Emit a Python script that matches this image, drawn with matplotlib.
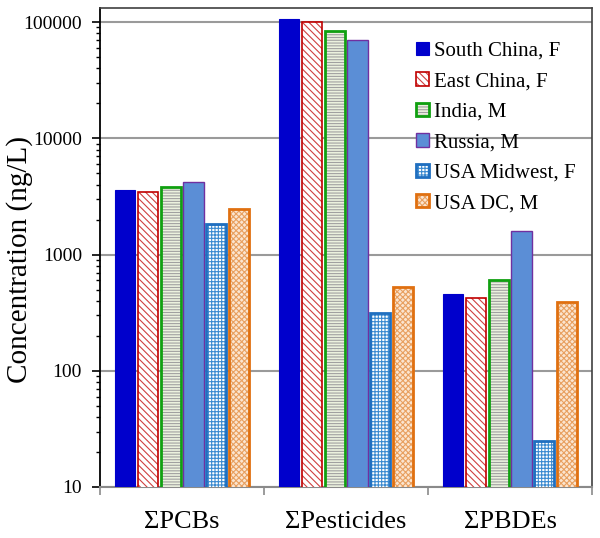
import numpy as np
import matplotlib.pyplot as plt
from matplotlib.colors import to_rgba
from matplotlib.ticker import LogLocator, NullFormatter, FixedLocator

plt.rcParams['font.family'] = ['Liberation Serif', 'DejaVu Serif']
plt.rcParams['hatch.linewidth'] = 0.8

# DATA
categories = ["ΣPCBs", "ΣPesticides", "ΣPBDEs"]
series = ["South China, F", "East China, F", "India, M", "Russia, M",
          "USA Midwest, F", "USA DC, M"]
south_china = [3600, 106000, 455]
east_china = [3450, 100000, 425]
india = [3830, 84000, 605]
russia = [4180, 70000, 1590]
usa_midwest = [1850, 312, 25]
usa_dc = [2480, 528, 388]
values = [south_china, east_china, india, russia, usa_midwest, usa_dc]

# (face, edge, hatch, hatch color, edge width)
styles = [
    ("#0000CC", "#0000CC", None, None, 0.8),
    ("white", "#C00000", "\\\\\\\\\\", "#D04040", 1.2),
    ("#EBF1DE", "#10A010", "------", "#A0A0A0", 2.0),
    ("#5B8ED6", "#7030A0", None, None, 1.0),
    ("white", "#1F6FC0", "+++++", "#3A8AD0", 2.0),
    ("#FBE5D0", "#E07010", "xxxxxx", "#E8A060", 2.0),
]

fig = plt.figure(figsize=(6, 5.38), dpi=100)
ax = fig.add_axes([0.1667, 0.0948, 0.82, 0.890])

x = np.arange(len(categories))
step = 0.14
width = 0.122
for i, (name, vals) in enumerate(zip(series, values)):
    fc, ec, hatch, hc, lw = styles[i]
    pos = x + (i - 2.5) * step
    bars = ax.bar(pos, vals, width=width, color=fc, edgecolor=ec,
                  linewidth=lw, hatch=hatch, label=name, zorder=3)
    if hatch:
        for b in bars:
            b._hatch_color = to_rgba(hc)

ax.set_yscale('log')
ax.set_ylim(10, 10 ** 5.12)
ax.set_xlim(-0.5, 2.5)
ax.yaxis.set_minor_locator(LogLocator(base=10, subs=np.arange(2, 10), numticks=50))
ax.yaxis.set_minor_formatter(NullFormatter())
ax.set_yticks([10, 100, 1000, 10000, 100000])
ax.set_yticklabels(["10", "100", "1000", "10000", "100000"], fontsize=14)
ax.grid(axis='y', which='major', color='#9A9A9A', linewidth=1.5, zorder=0)

ax.set_xticks(x)
ax.set_xticklabels(categories, fontsize=19)
ax.xaxis.set_minor_locator(FixedLocator([-0.5, 0.5, 1.5, 2.5]))
ax.tick_params(axis='x', which='major', length=0, pad=17)
ax.tick_params(axis='x', which='minor', length=6, color='#8A8A8A', width=1.2)
ax.tick_params(axis='y', which='major', length=6, width=1.2, direction='out', pad=7)
ax.tick_params(axis='y', which='minor', length=3, width=1.0, direction='out')

ax.set_ylabel("Concentration (ng/L)", fontsize=21)
ax.yaxis.set_label_coords(-0.137, 0.475)

ax.spines['left'].set_color('black')
ax.spines['left'].set_linewidth(1.3)
ax.spines['bottom'].set_color('#8A8A8A')
ax.spines['bottom'].set_linewidth(1.5)
for s in ['top', 'right']:
    ax.spines[s].set_color('#404040')
    ax.spines[s].set_linewidth(1.2)

ax.legend(loc='upper left', bbox_to_anchor=(0.68, 0.9376), bbox_transform=fig.transFigure,
          frameon=False, fontsize=15, handlelength=0.6, handleheight=0.6,
          handletextpad=0.25, labelspacing=0.55, borderaxespad=0)

fig.savefig("out.png", dpi=100)
